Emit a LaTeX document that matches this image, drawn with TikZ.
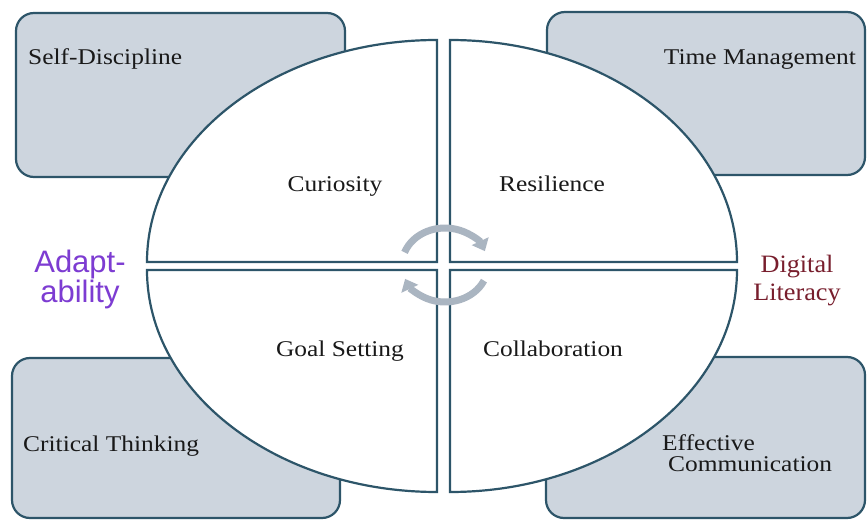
\documentclass[tikz,border=0pt]{standalone}
\usepackage{fontspec}
\setmainfont{Liberation Serif}
\newfontfamily\labfont[FakeStretch=1.13]{Liberation Serif}
\newfontfamily\dlfont[FakeStretch=1.05]{Liberation Serif}
\newfontfamily\adfont{Liberation Sans}
\usetikzlibrary{arrows.meta}
\definecolor{edge}{RGB}{45,85,105}
\definecolor{boxfill}{RGB}{205,213,222}
\definecolor{cyc}{RGB}{170,181,193}
\definecolor{adapt}{RGB}{125,60,210}
\definecolor{digi}{RGB}{120,30,45}
\definecolor{ink}{RGB}{25,25,25}
\begin{document}
\begin{tikzpicture}[x=1pt,y=1pt,
  card/.style={draw=edge, fill=boxfill, line width=2.2pt, rounded corners=18pt},
  quad/.style={draw=edge, fill=white, line width=2.2pt},
  lab/.style={inner sep=0pt, text=ink, font=\labfont\fontsize{22.5}{20}\selectfont},
  cyclearrow/.style={draw=cyc, line width=7pt, -{Triangle[length=11pt,width=18pt]}}]
\useasboundingbox (0,0) rectangle (867,520);
\fill[white] (0,0) rectangle (867,520);
% corner cards
\path[card] (16,343) rectangle (345,507);
\path[card] (547,345) rectangle (865,508);
\path[card] (12,2) rectangle (340,162);
\path[card] (546,2) rectangle (865,163);
% quadrants
\path[quad] (437,258) -- (147,258) arc[start angle=180, end angle=90, x radius=290, y radius=222] -- cycle;
\path[quad] (450,258) -- (450,480) arc[start angle=90, end angle=0, x radius=287, y radius=222] -- cycle;
\path[quad] (437,250) -- (147,250) arc[start angle=180, end angle=270, x radius=290, y radius=222] -- cycle;
\path[quad] (450,250) -- (737,250) arc[start angle=0, end angle=-90, x radius=287, y radius=222] -- cycle;
% cycle arrows
\draw[cyclearrow] (445,255) ++(160:43 and 37) arc[start angle=160, end angle=22, x radius=43, y radius=37];
\draw[cyclearrow] (445,255) ++(-25:43 and 37) arc[start angle=-25, end angle=-158, x radius=43, y radius=37];
% labels
\node[lab, anchor=base west] (sd) at (28,455) {Self-Discipline};
\node[lab, anchor=base east] (tm) at (856,455) {Time Management};
\node[lab, anchor=base] (cu) at (335,328) {Curiosity};
\node[lab, anchor=base] (re) at (552,328) {Resilience};
\node[lab, anchor=base] (gs) at (340,164) {Goal Setting};
\node[lab, anchor=base] (co) at (553,164) {Collaboration};
\node[lab, anchor=base west] (ct) at (23,69) {Critical Thinking};
\node[lab, anchor=west, align=left, font=\labfont\fontsize{22.5}{21}\selectfont] (ec) at (662,67.2) {Effective\\\hspace*{6pt}Communication};
\node[inner sep=0pt, text=adapt, align=center, font=\adfont\fontsize{31}{25}\selectfont] (ad) at (80,240.4) {Adapt-\\ability};
\node[inner sep=0pt, text=digi, align=center, font=\dlfont\fontsize{25}{28}\selectfont] (dl) at (797,239) {Digital\\Literacy};
\end{tikzpicture}
\end{document}
